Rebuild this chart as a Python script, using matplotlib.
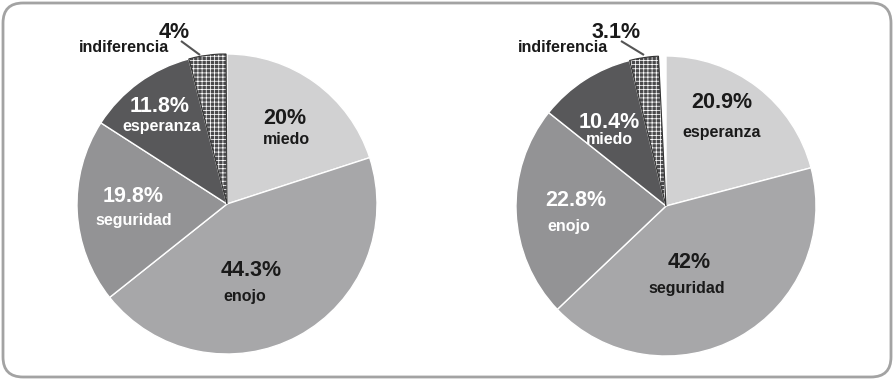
import matplotlib
matplotlib.use("Agg")
import matplotlib.pyplot as plt
from matplotlib.patches import FancyBboxPatch

plt.rcParams['font.family'] = ['Liberation Sans', 'DejaVu Sans']
plt.rcParams['hatch.linewidth'] = 0.55

# data (clockwise from 12 o'clock)
left_labels = ["miedo", "enojo", "seguridad", "esperanza", "indiferencia"]
left_values = [20, 44.3, 19.8, 11.8, 4]
right_labels = ["esperanza", "seguridad", "enojo", "miedo", "indiferencia"]
right_values = [20.9, 42, 22.8, 10.4, 3.1]

W, H = 894, 380
colors = ['#d1d1d2', '#a7a7a9', '#939395', '#58585a', '#4a4a4c']
text_colors = ['#1a1a1a', '#1a1a1a', 'white', 'white', '#1a1a1a']


def fmt(v):
    return f"{v:g}%"


def draw_pie(ax, values, labels, center, pct_pos, name_pos, leader):
    cx, cy = center
    wedges, _ = ax.pie([v / 100 for v in values], normalize=False, startangle=90,
                       counterclock=False, center=(cx, H - cy), radius=150,
                       colors=colors,
                       wedgeprops=dict(edgecolor='white', linewidth=1.0))
    # dotted slice: dark cells split by a thin white grid
    dot = wedges[-1]
    dot.set_hatch('++++')
    dot.set_edgecolor('white')
    dot.set_linewidth(0)
    ax.add_patch(plt.Polygon(dot.get_path().vertices, closed=True, fill=False,
                             edgecolor='#333333', linewidth=0.8,
                             transform=dot.get_transform()))
    for i, (v, lab) in enumerate(zip(values, labels)):
        px, py = pct_pos[i]
        nx, ny = name_pos[i]
        ax.text(px, H - py, fmt(v), ha='center', va='center', fontsize=15.5,
                fontweight='bold', color=text_colors[i])
        ax.text(nx, H - ny, lab, ha='center', va='center', fontsize=11.5,
                fontweight='bold', color=text_colors[i])
    (x0, y0), (x1, y1) = leader
    ax.plot([x0, x1], [H - y0, H - y1], color='#555555', lw=1.5,
            solid_capstyle='butt')


fig = plt.figure(figsize=(W / 100, H / 100), dpi=100)
ax = fig.add_axes([0, 0, 1, 1])

draw_pie(ax, left_values, left_labels, (227, 204),
         [(285, 118), (251, 270), (133, 197), (160, 106), (174, 32)],
         [(286, 139), (245, 296), (134, 220), (162, 127), (124, 47)],
         ((181, 41), (200, 55)))
draw_pie(ax, right_values, right_labels, (666, 206),
         [(722, 103), (689, 263), (576, 201), (609, 122), (616, 32)],
         [(722, 132), (687, 289), (569, 227), (609, 140), (563, 47)],
         ((621, 41), (644, 55)))

box = FancyBboxPatch((3, 3), W - 6, H - 6, boxstyle="round,pad=0,rounding_size=20",
                     facecolor='none', edgecolor='#a3a3a3', linewidth=2.0)
ax.add_patch(box)

ax.set_xlim(0, W)
ax.set_ylim(0, H)
ax.set_aspect('auto')
ax.set_axis_off()

fig.savefig("out.png", dpi=100)
